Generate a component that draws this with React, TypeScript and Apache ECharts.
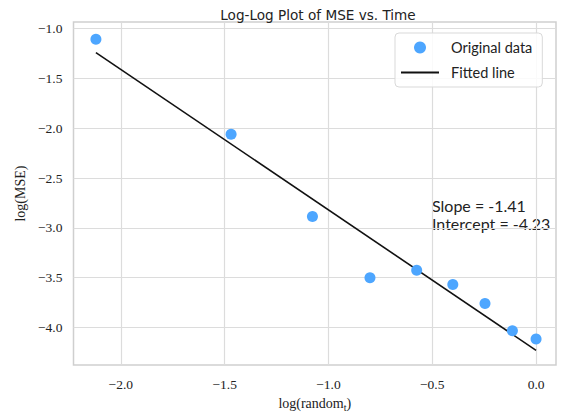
import React, { useEffect, useRef } from "react";
import * as echarts from "echarts";

const xVals = [-2.12, -1.469, -1.077, -0.8, -0.575, -0.401, -0.246, -0.114, 0.0];
const yVals = [-1.106, -2.06, -2.887, -3.5, -3.425, -3.569, -3.759, -4.033, -4.117];
const fitX = [-2.12, 0.0];
const fitY = [-1.24, -4.23];
const xTicks = [-2.0, -1.5, -1.0, -0.5, 0.0];
const yTicks = [-4.0, -3.5, -3.0, -2.5, -2.0, -1.5, -1.0];
const slopeText = "Slope = -1.41";
const interceptText = "Intercept = -4.23";

const SANS = "Lato, 'DejaVu Sans', sans-serif";
const SERIF = "'Liberation Serif', 'DejaVu Serif', serif";

const fmt = (v: number) => {
  const s = Number(v).toFixed(1);
  return s === "-0.0" ? "0.0" : s.replace("-", "\u2212");
};

export default function App() {
  const ref = useRef<HTMLDivElement>(null);
  useEffect(() => {
    if (!ref.current) return;
    const chart = echarts.init(ref.current, undefined, { renderer: "svg" });
    const gridColor = "#dcdcdc";
    chart.setOption({
      animation: false,
      backgroundColor: "#ffffff",
      title: {
        text: "Log-Log Plot of MSE vs. Time",
        left: 313,
        textAlign: "center",
        top: 3,
        textStyle: { fontFamily: "'DejaVu Sans', sans-serif", fontSize: 13.6, fontWeight: "normal", color: "#222" },
      },
      grid: {
        left: 73.5,
        top: 22,
        right: 8,
        bottom: 50.5,
        show: true,
        borderColor: "#cfcfcf",
        borderWidth: 1.5,
        backgroundColor: "transparent",
      },
      legend: {
        orient: "vertical",
        left: 395,
        top: 33,
        padding: [7, 10, 7, 5],
        itemGap: 10,
        itemWidth: 38,
        itemHeight: 12,
        borderColor: "#d9d9d9",
        borderWidth: 1,
        borderRadius: 4,
        backgroundColor: "rgba(255,255,255,0.85)",
        textStyle: { fontFamily: SANS, fontSize: 14.5, color: "#222", padding: [0, 0, 0, 7] },
        data: [
          { name: "Original data" },
          { name: "Fitted line", itemStyle: { opacity: 0 } },
        ],
      },
      xAxis: {
        type: "value",
        min: -2.228,
        max: 0.096,
        name: "{a|log(random}{s|t}{a|)}",
        nameLocation: "middle",
        nameGap: 28,
        nameTextStyle: {
          rich: {
            a: { fontFamily: SERIF, fontSize: 14, color: "#222" },
            s: { fontFamily: SERIF, fontSize: 10, color: "#222", verticalAlign: "bottom", padding: [8, 0, 0, 0] },
          },
        },
        axisLine: { show: false },
        axisTick: { show: false, customValues: xTicks },
        axisLabel: {
          customValues: xTicks,
          formatter: fmt,
          fontFamily: SERIF,
          fontSize: 13.5,
          color: "#222",
          margin: 12,
        },
        splitLine: { show: true, lineStyle: { color: gridColor, width: 1.2 } },
      },
      yAxis: {
        type: "value",
        min: -4.378,
        max: -0.933,
        name: "log(MSE)",
        nameLocation: "middle",
        nameRotate: 90,
        nameGap: 46,
        nameTextStyle: { fontFamily: SERIF, fontSize: 14, color: "#222" },
        axisLine: { show: false },
        axisTick: { show: false, customValues: yTicks },
        axisLabel: {
          customValues: yTicks,
          formatter: fmt,
          fontFamily: SERIF,
          fontSize: 13.5,
          color: "#222",
          margin: 11,
        },
        splitLine: { show: true, lineStyle: { color: gridColor, width: 1.2 } },
      },
      graphic: [
        {
          type: "text",
          left: 432,
          top: 196,
          style: {
            text: slopeText + "\n" + interceptText,
            fontFamily: SANS,
            fontSize: 16,
            lineHeight: 18,
            fill: "#222",
          },
        },
      ],
      series: [
        {
          name: "Original data",
          type: "scatter",
          symbol: "circle",
          symbolSize: 11,
          itemStyle: { color: "#4da6ff", opacity: 1 },
          data: xVals.map((x, i) => [x, yVals[i]]),
          z: 3,
        },
        {
          name: "Fitted line",
          type: "line",
          symbol: "none",
          lineStyle: { color: "#111", width: 1.6 },
          itemStyle: { color: "#111" },
          data: fitX.map((x, i) => [x, fitY[i]]),
          z: 2,
        },
      ],
    });
    return () => chart.dispose();
  }, []);
  return (
    <div
      ref={ref}
      style={{ position: "fixed", left: 0, top: 0, width: 564, height: 417 }}
    />
  );
}
